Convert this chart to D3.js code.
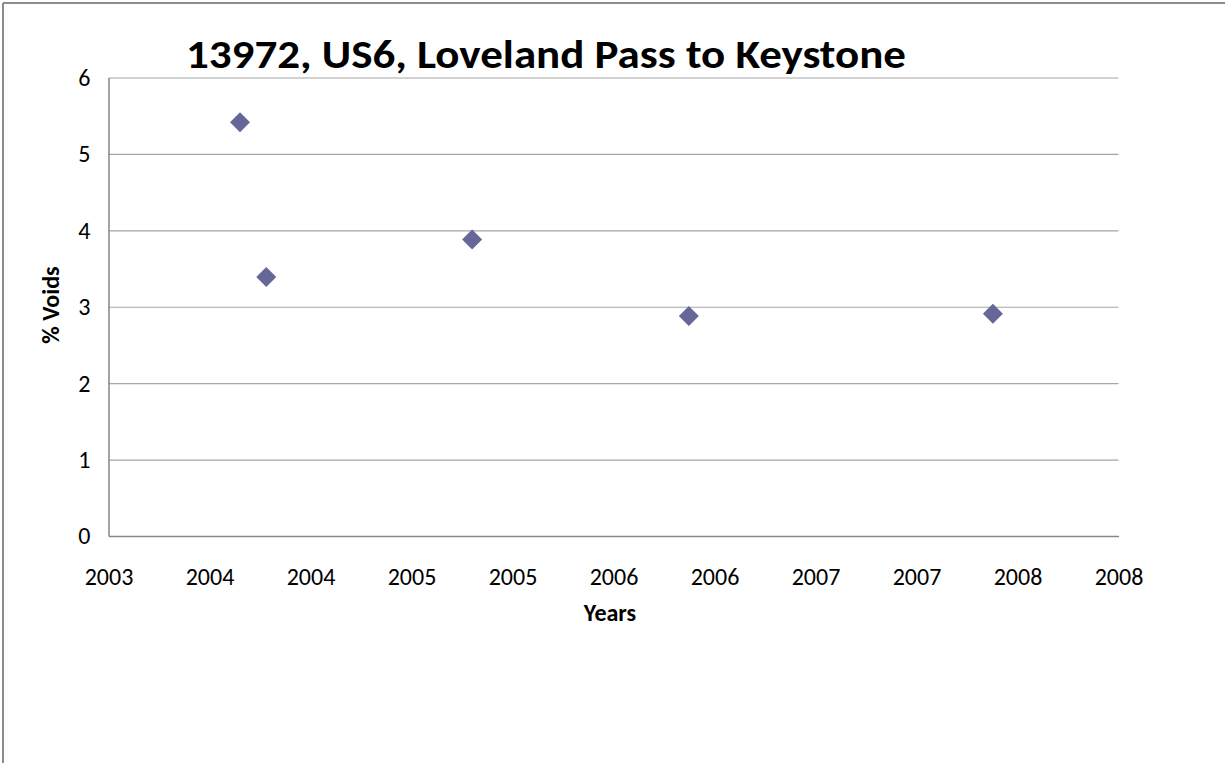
<!DOCTYPE html>
<html>
<head>
<meta charset="utf-8">
<script src="https://cdn.jsdelivr.net/npm/d3@7/dist/d3.min.js"></script>
<style>
  html, body { margin: 0; padding: 0; background: #fff; }
  svg { display: block; }
  text { font-family: Carlito, Calibri, "Open Sans", sans-serif; fill: #000; }
</style>
</head>
<body>
<svg id="chart" width="1225" height="763"></svg>
<script>
// ---- data ----
const years = [2003.651, 2003.781, 2004.80, 2005.873, 2007.378];
const voids = [5.415, 3.39, 3.88, 2.88, 2.91];
const xTickValues = [2003, 2003.5, 2004, 2004.5, 2005, 2005.5, 2006, 2006.5, 2007, 2007.5, 2008];
const xTickLabels = ["2003","2004","2004","2005","2005","2006","2006","2007","2007","2008","2008"];
const yTickValues = [0, 1, 2, 3, 4, 5, 6];
const yTickLabels = ["0","1","2","3","4","5","6"];
const titleText = "13972, US6, Loveland Pass to Keystone";
const xTitle = "Years";
const yTitle = "% Voids";

// ---- layout ----
const W = 1225, H = 763;
const plot = { left: 108.5, top: 77.5, right: 1118.5, bottom: 536 };
const FONT = "Carlito, Calibri, 'Open Sans', sans-serif";

const svg = d3.select("#chart");

// outer chart border (cropped: only top and left visible)
svg.append("line").attr("x1", 3).attr("y1", 3).attr("x2", W).attr("y2", 3)
  .attr("stroke", "#8c8c8c").attr("stroke-width", 2);
svg.append("line").attr("x1", 3).attr("y1", 3).attr("x2", 3).attr("y2", H)
  .attr("stroke", "#8c8c8c").attr("stroke-width", 2);

const x = d3.scaleLinear().domain([2003, 2008]).range([plot.left, plot.right]);
const y = d3.scaleLinear().domain([0, 6]).range([plot.bottom, plot.top]);

// gridlines
const gy = d3.axisLeft(y).tickValues(yTickValues.slice(1))
  .tickSize(-(plot.right - plot.left)).tickFormat("");
svg.append("g").attr("transform", `translate(${plot.left},0)`).call(gy)
  .call(g => g.select(".domain").remove())
  .call(g => g.selectAll(".tick line").attr("stroke", "#a6a6a6").attr("stroke-width", 1.2));

// y axis
const yAxis = d3.axisLeft(y).tickValues(yTickValues).tickSize(0).tickPadding(18)
  .tickFormat((d, i) => yTickLabels[i]);
svg.append("g").attr("transform", `translate(${plot.left},0)`).call(yAxis)
  .call(g => g.select(".domain").attr("stroke", "#868686").attr("stroke-width", 1.5))
  .call(g => g.selectAll(".tick text").attr("font-size", 24)
    .attr("font-family", FONT).attr("fill", "#000").attr("dy", "0.33em"));

// x axis
const xAxis = d3.axisBottom(x).tickValues(xTickValues).tickSize(0).tickPadding(49)
  .tickFormat((d, i) => xTickLabels[i]);
svg.append("g").attr("transform", `translate(0,${plot.bottom})`).call(xAxis)
  .call(g => g.select(".domain").attr("stroke", "#868686").attr("stroke-width", 1.5))
  .call(g => g.selectAll(".tick text").attr("font-size", 24)
    .attr("font-family", FONT).attr("fill", "#000").attr("dy", "0"));

// points (diamonds)
const diamond = d3.symbol().type(d3.symbolSquare).size(200);
svg.append("g").selectAll("path").data(years.map((d, i) => [d, voids[i]])).join("path")
  .attr("d", diamond)
  .attr("transform", d => `translate(${x(d[0])},${y(d[1])}) rotate(45)`)
  .attr("fill", "#666699");

// title
svg.append("text").attr("x", 546).attr("y", 68).attr("text-anchor", "middle")
  .attr("font-size", 41).attr("font-weight", "bold")
  .attr("textLength", 720).attr("lengthAdjust", "spacingAndGlyphs")
  .text(titleText);

// axis titles
svg.append("text").attr("x", 610).attr("y", 621).attr("text-anchor", "middle")
  .attr("font-size", 24).attr("font-weight", "bold").text(xTitle);
svg.append("text").attr("transform", "translate(59,305) rotate(-90)").attr("text-anchor", "middle")
  .attr("font-size", 24).attr("font-weight", "bold").text(yTitle);
</script>
</body>
</html>
